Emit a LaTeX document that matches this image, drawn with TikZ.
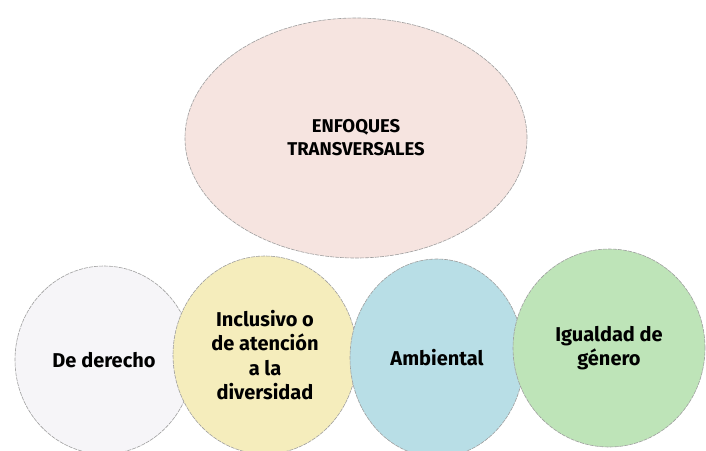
\documentclass[tikz,border=0pt]{standalone}
\usepackage{fontspec}
\setmainfont{Fira Sans}
\usepackage{tikz}
\usetikzlibrary{shapes.geometric}

\definecolor{rosa}{RGB}{246,228,224}
\definecolor{blanco}{RGB}{246,245,248}
\definecolor{amarillo}{RGB}{245,237,188}
\definecolor{celeste}{RGB}{184,222,230}
\definecolor{verde}{RGB}{190,228,184}

\tikzset{
	bubble/.style={ellipse, draw=gray!75, line width=0.6pt, dash pattern=on 4pt off 1pt,
		inner sep=0pt, align=center, font=\bfseries\fontsize{20}{24.5}\selectfont},
}

\begin{document}
\begin{tikzpicture}[x=1pt, y=-1pt]
			%%%%% START %%%%%
			
			\clip (0, 0) rectangle (706, 450);
			\fill[white] (0, 0) rectangle (706, 450);
			
			\node[bubble, fill=rosa, minimum width=342pt, minimum height=240pt,
				font=\bfseries\fontsize{18.5}{23}\selectfont] (enfoques) at (356, 138) {ENFOQUES\\TRANSVERSALES};
			
			\node[bubble, fill=blanco, minimum width=178pt, minimum height=188pt] (derecho) at (104, 360) {De derecho};
			\node[bubble, fill=amarillo, minimum width=184pt, minimum height=198pt] (inclusivo) at (265, 355) {Inclusivo o\\de atención\\a la\\diversidad};
			\node[bubble, fill=celeste, minimum width=174pt, minimum height=198pt] (ambiental) at (437, 358) {Ambiental};
			\node[bubble, fill=verde, minimum width=192pt, minimum height=198pt] (genero) at (609, 348) {Igualdad de\\género};
			
			%%%%% END %%%%%
		\end{tikzpicture}
\end{document}
